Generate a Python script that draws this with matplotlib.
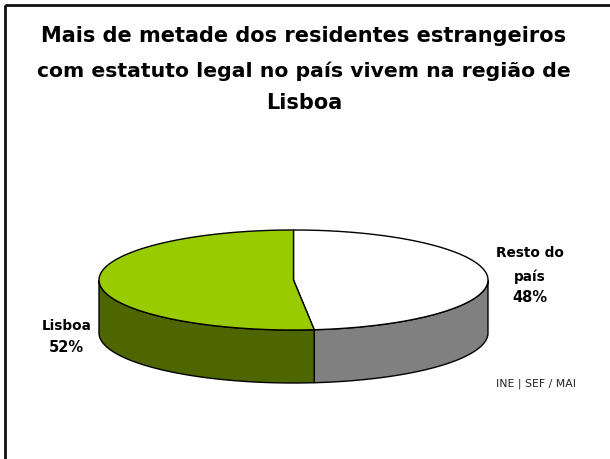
import numpy as np
import matplotlib
matplotlib.use('Agg')
import matplotlib.pyplot as plt
from matplotlib.patches import Polygon, Rectangle

plt.rcParams['font.family'] = ['DejaVu Sans']

title_lines = ["Mais de metade dos residentes estrangeiros",
               "com estatuto legal no país vivem na região de",
               "Lisboa"]
labels = ['Resto do', 'país', 'Lisboa']
values = [48.3, 51.7]
top_colors = ['#ffffff', '#99cc00']
side_colors = ['#808080', '#4d6600']
source = 'INE | SEF / MAI'

# pie geometry in pixels
cx, cy = 293.5, 280
rx, ry = 194.5, 50
depth = 53

fig = plt.figure(figsize=(6.10, 4.59), dpi=100)
ax = fig.add_axes([0, 0, 1, 1])
ax.set_xlim(0, 610)
ax.set_ylim(459, 0)
ax.axis('off')

ax.add_patch(Rectangle((5, 5), 640, 490, fill=False, ec='#111111', lw=2))

start = 0
for v, top, side in zip(values, top_colors, side_colors):
    end = start + v / sum(values) * 2 * np.pi
    t = np.linspace(start, end, 200)
    x = cx + rx * np.sin(t)
    y = cy - ry * np.cos(t)
    # wall, only the front half of the ellipse shows
    front = (t >= np.pi / 2) & (t <= 3 * np.pi / 2)
    xf, yf = x[front], y[front]
    wall = np.column_stack([np.r_[xf, xf[::-1]], np.r_[yf, yf[::-1] + depth]])
    ax.add_patch(Polygon(wall, closed=True, fc=side, ec='black', lw=1, joinstyle='round'))
    ax.add_patch(Polygon(np.column_stack([np.r_[cx, x], np.r_[cy, y]]), closed=True,
                         fc=top, ec='black', lw=1, joinstyle='round'))
    start = end

for yy, fs, line in zip([36, 71, 103], [15, 14.7, 15], title_lines):
    ax.text(304, yy, line, ha='center', va='center', fontsize=fs, fontweight='bold', color='black')

ax.text(530, 253, labels[0], ha='center', va='center', fontsize=9.8, fontweight='bold')
ax.text(530, 277, labels[1], ha='center', va='center', fontsize=9.8, fontweight='bold')
ax.text(530, 298, '%.0f%%' % values[0], ha='center', va='center', fontsize=10.5, fontweight='bold')
ax.text(66.5, 326, labels[2], ha='center', va='center', fontsize=9.8, fontweight='bold')
ax.text(66.5, 348, '%.0f%%' % values[1], ha='center', va='center', fontsize=10.5, fontweight='bold')
ax.text(536, 384, source, ha='center', va='center', fontsize=7.8, color='#222222')

fig.savefig('out.png', dpi=100, facecolor='white')
